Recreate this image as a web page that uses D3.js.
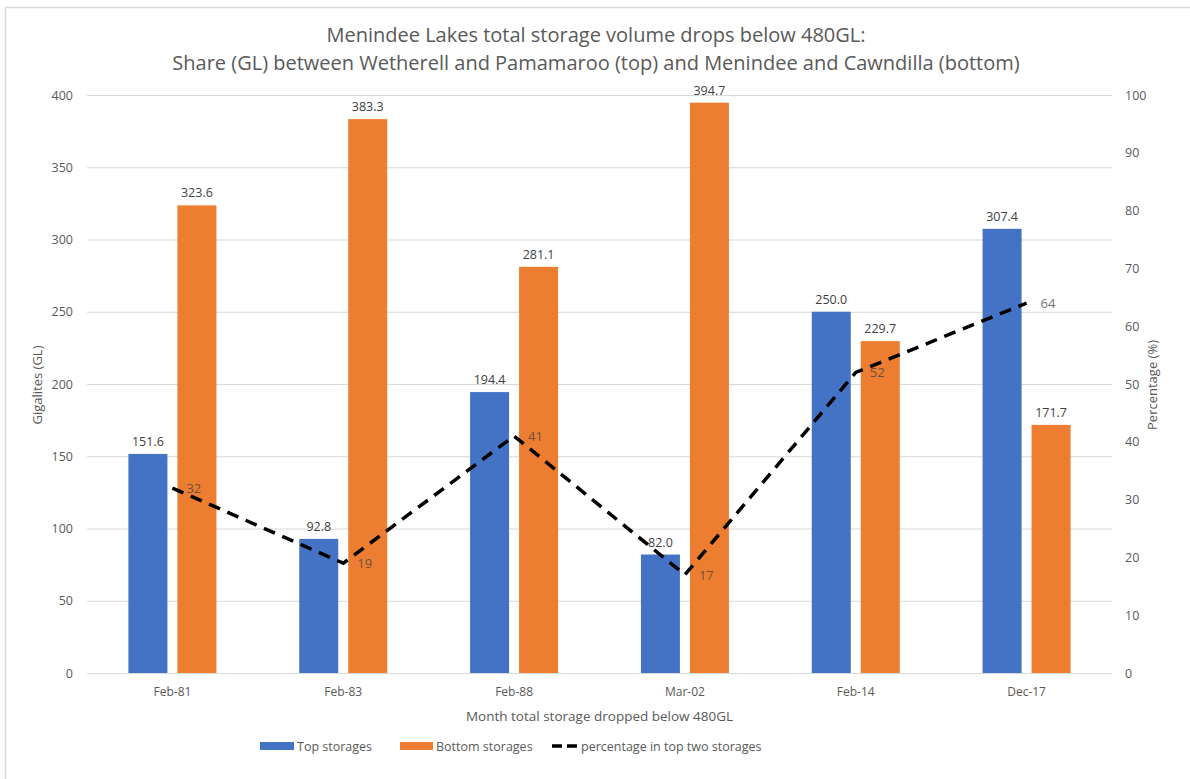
<!DOCTYPE html>
<html>
<head>
<meta charset="utf-8">
<script src="https://cdn.jsdelivr.net/npm/d3@7"></script>
<style>
  html, body { margin: 0; padding: 0; background: #fff; }
  svg { display: block; }
  text { font-family: "Open Sans", "Noto Sans", sans-serif; }
</style>
</head>
<body>
<svg id="chart" width="1190" height="779"></svg>
<script>
// Months when total storage fell below 480GL
const categories = ["Feb-81", "Feb-83", "Feb-88", "Mar-02", "Feb-14", "Dec-17"];
// Volume held in Wetherell + Pamamaroo (GL)
const topStorages = [151.6, 92.8, 194.4, 82.0, 250.0, 307.4];
// Volume held in Menindee + Cawndilla (GL)
const bottomStorages = [323.6, 383.3, 281.1, 394.7, 229.7, 171.7];
// Share held in the top two storages (%)
const percentTop = [32, 19, 41, 17, 52, 64];
const leftTicks = [0, 50, 100, 150, 200, 250, 300, 350, 400];
const rightTicks = [0, 10, 20, 30, 40, 50, 60, 70, 80, 90, 100];

const svg = d3.select("#chart");
const m = { left: 87, right: 1112, top: 95, bottom: 673 };

const blue = "#4472c4", orange = "#ed7d31", grid = "#d9d9d9", txt = "#595959";

// chart frame
svg.append("rect").attr("x", 5.5).attr("y", 7.5).attr("width", 1190).attr("height", 800)
  .attr("fill", "#fff").attr("stroke", "#d9d9d9").attr("stroke-width", 1.5);

const x = d3.scaleBand().domain(categories).range([m.left, m.right]);
const yL = d3.scaleLinear().domain([0, 400]).range([m.bottom, m.top]);
const yR = d3.scaleLinear().domain([0, 100]).range([m.bottom, m.top]);

// title
const title = svg.append("g").attr("fill", "#595959")
  .attr("font-family", "'Open Sans', sans-serif").attr("font-size", 20)
  .attr("text-anchor", "middle");
title.append("text").attr("x", 596).attr("y", 42).text("Menindee Lakes total storage volume drops below 480GL:");
title.append("text").attr("x", 596).attr("y", 70).text("Share (GL) between Wetherell and Pamamaroo (top) and Menindee and Cawndilla (bottom)");

// gridlines
svg.append("g").selectAll("line").data(leftTicks).join("line")
  .attr("x1", m.left).attr("x2", m.right)
  .attr("y1", d => yL(d) + 0.5).attr("y2", d => yL(d) + 0.5)
  .attr("stroke", grid).attr("stroke-width", 1);

// left axis
const axL = svg.append("g").attr("transform", `translate(${m.left - 14},0)`)
  .call(d3.axisLeft(yL).tickValues(leftTicks).tickSize(0).tickPadding(0));
axL.select(".domain").remove();
axL.selectAll("text").attr("fill", txt).attr("font-size", 12.5).attr("font-family", "'Open Sans', sans-serif");

// right axis
const axR = svg.append("g").attr("transform", `translate(${m.right + 13},0)`)
  .call(d3.axisRight(yR).tickValues(rightTicks).tickSize(0).tickPadding(0));
axR.select(".domain").remove();
axR.selectAll("text").attr("fill", txt).attr("font-size", 12.5).attr("font-family", "'Open Sans', sans-serif");

// category axis
const axB = svg.append("g").attr("transform", `translate(0,${m.bottom + 14})`)
  .call(d3.axisBottom(x).tickSize(0).tickPadding(0));
axB.select(".domain").remove();
axB.selectAll("text").attr("fill", txt).attr("font-size", 12).attr("font-family", "'Open Sans', sans-serif");

// axis titles
svg.append("text").attr("transform", "translate(42,385) rotate(-90)")
  .attr("text-anchor", "middle").attr("fill", txt).attr("font-size", 13).text("Gigalites (GL)");
svg.append("text").attr("transform", "translate(1157,385) rotate(-90)")
  .attr("text-anchor", "middle").attr("fill", txt).attr("font-size", 13).text("Percentage (%)");
svg.append("text").attr("x", (m.left + m.right) / 2).attr("y", 721)
  .attr("text-anchor", "middle").attr("fill", txt).attr("font-size", 13.5)
  .text("Month total storage dropped below 480GL");

// bars
const barW = 39, off = 24.5;
const rows = categories.map((c, i) => ({ c, top: topStorages[i], bottom: bottomStorages[i], pct: percentTop[i] }));
const cx = c => x(c) + x.bandwidth() / 2;

const bars = svg.append("g");
bars.selectAll(".bt").data(rows).join("rect").attr("class", "bt")
  .attr("x", d => cx(d.c) - off - barW / 2).attr("width", barW)
  .attr("y", d => yL(d.top)).attr("height", d => yL(0) - yL(d.top)).attr("fill", blue);
bars.selectAll(".bb").data(rows).join("rect").attr("class", "bb")
  .attr("x", d => cx(d.c) + off - barW / 2).attr("width", barW)
  .attr("y", d => yL(d.bottom)).attr("height", d => yL(0) - yL(d.bottom)).attr("fill", orange);

// bar value labels
const lbl = svg.append("g").attr("fill", "#404040").attr("font-size", 12.5).attr("text-anchor", "middle");
lbl.selectAll(".lt").data(rows).join("text")
  .attr("x", d => cx(d.c) - off).attr("y", d => yL(d.top) - 8).text(d => d.top.toFixed(1));
lbl.selectAll(".lb").data(rows).join("text")
  .attr("x", d => cx(d.c) + off).attr("y", d => yL(d.bottom) - 8).text(d => d.bottom.toFixed(1));

// percentage line
const line = d3.line().x(d => cx(d.c)).y(d => yR(d.pct));
svg.append("path").datum(rows).attr("d", line).attr("fill", "none")
  .attr("stroke", "#000").attr("stroke-width", 3.5).attr("stroke-dasharray", "12 8");

svg.append("g").attr("fill", "#404040").attr("fill-opacity", 0.75).attr("font-size", 13)
  .selectAll("text").data(rows).join("text")
  .attr("x", d => cx(d.c) + 14).attr("y", d => yR(d.pct) + 5).text(d => d.pct);

// legend
const lg = svg.append("g").attr("font-size", 12.5).attr("fill", txt);
lg.append("rect").attr("x", 260).attr("y", 742).attr("width", 34).attr("height", 8).attr("fill", blue);
lg.append("text").attr("x", 297).attr("y", 750.5).text("Top storages");
lg.append("rect").attr("x", 400).attr("y", 742).attr("width", 33).attr("height", 8).attr("fill", orange);
lg.append("text").attr("x", 436).attr("y", 750.5).text("Bottom storages");
lg.append("line").attr("x1", 552).attr("x2", 577).attr("y1", 746).attr("y2", 746)
  .attr("stroke", "#000").attr("stroke-width", 3.5).attr("stroke-dasharray", "10 5");
lg.append("text").attr("x", 581).attr("y", 750.5).text("percentage in top two storages");
</script>
</body>
</html>
